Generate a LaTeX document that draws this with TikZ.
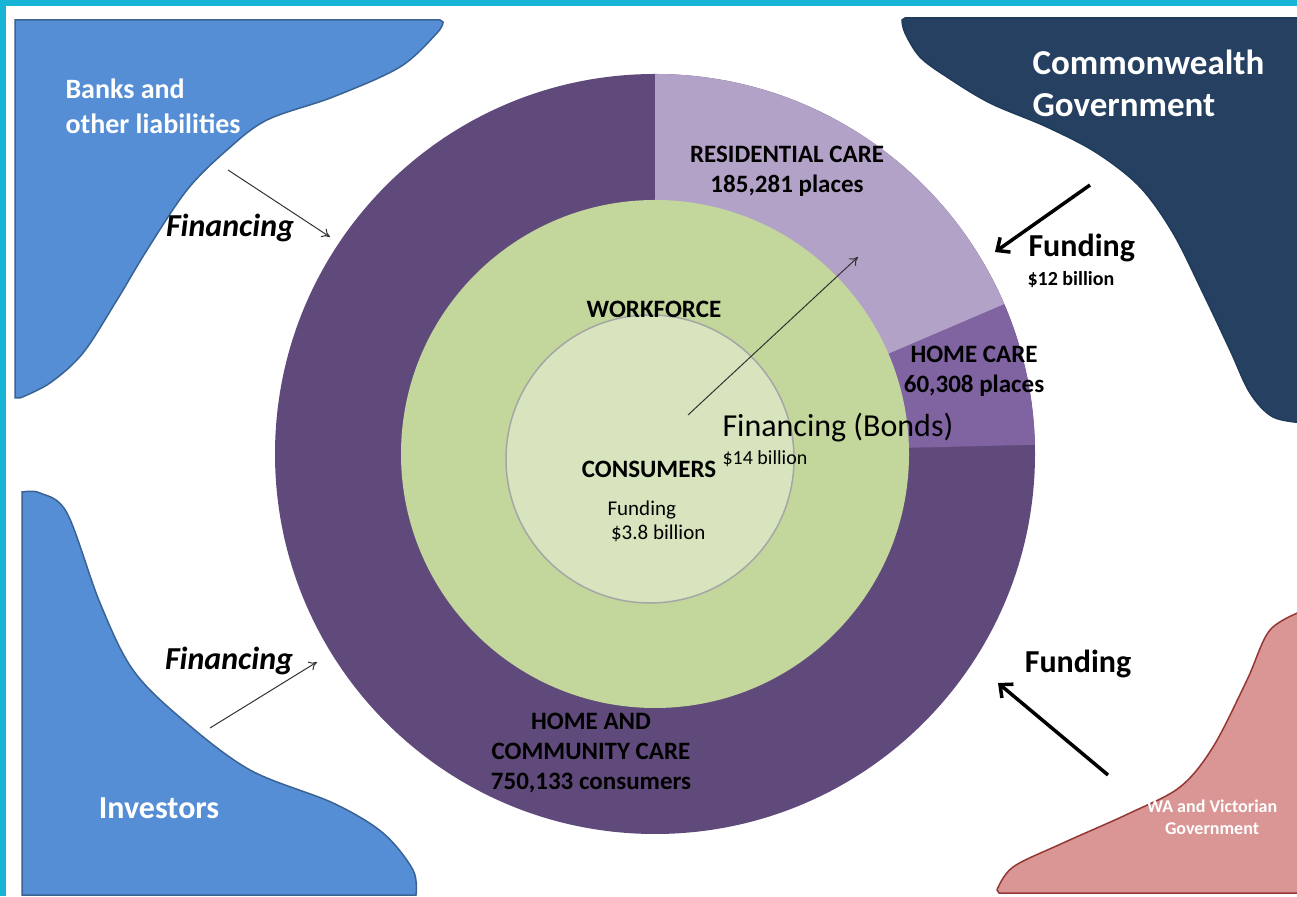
\documentclass[tikz,border=0pt]{standalone}
\usepackage{fontspec}
\setmainfont{Carlito}
\usepackage{tikz}
\usetikzlibrary{positioning, arrows.meta, shapes}

\definecolor{edgecyan}{HTML}{17B4D6}
\definecolor{bankblue}{HTML}{558ED5}
\definecolor{bankline}{HTML}{3A6394}
\definecolor{govnavy}{HTML}{254061}
\definecolor{govline}{HTML}{1F3A5A}
\definecolor{stepink}{HTML}{D99694}
\definecolor{stateline}{HTML}{953735}
\definecolor{hacc}{HTML}{604A7B}
\definecolor{resi}{HTML}{B3A2C7}
\definecolor{homec}{HTML}{8064A2}
\definecolor{work}{HTML}{C3D69B}
\definecolor{cons}{HTML}{D7E4BD}

\begin{document}
\begin{tikzpicture}[x=1pt, y=1pt,
  ringtext/.style={font=\fontsize{25}{30}\selectfont\bfseries, align=center, text=black},
  whitetext/.style={text=white, font=\bfseries},
  flowtext/.style={font=\fontsize{32}{36}\selectfont\bfseries\itshape},
  fundtext/.style={font=\fontsize{32}{36}\selectfont\bfseries},
  finarrow/.style={-{To[length=8pt, width=10pt]}, line width=1pt, black!80},
  fundarrow/.style={-{Straight Barb[length=10pt, width=18pt]}, line width=3.5pt}
]

\useasboundingbox (0,0) rectangle (1297,896);

% Frame
\fill[edgecyan] (0,890) rectangle (1297,896);
\fill[edgecyan] (0,0) rectangle (6,896);

% Banks
\draw[fill=bankblue, draw=bankline, line width=1.5pt]
  (15,498) -- (15,876) -- (440,876)
  -- plot[smooth, tension=0.55] coordinates {(443,874) (437,863) (400,829) (333,799) (267,776) (227,746)
    (187,706) (147,646) (117,596) (83,543) (50,513) (20,498)} -- cycle;

% Investors
\draw[fill=bankblue, draw=bankline, line width=1.5pt]
  (22,1) -- (22,404)
  -- plot[smooth, tension=0.55] coordinates {(23,404) (40,403) (67,383) (100,293) (133,226) (183,176)
    (250,126) (333,93) (383,63) (413,26) (416,1)} -- cycle;

% Commonwealth
\draw[fill=govnavy, draw=govline, line width=1.5pt]
  (1305,878) -- (905,878)
  -- plot[smooth, tension=0.55] coordinates {(902,876) (905,863) (920,839) (947,819) (990,793) (1047,769)
    (1097,743) (1140,709) (1173,663) (1203,603) (1230,546) (1250,503) (1273,479) (1305,473)} -- cycle;

% WA and Victoria
\draw[fill=stepink, draw=stateline, line width=1.5pt]
  (1305,3) -- (999,3)
  -- plot[smooth, tension=0.55] coordinates {(997,6) (1013,29) (1063,53) (1130,83) (1180,109) (1213,149)
    (1247,216) (1270,266) (1305,286)} -- cycle;

% Ring
\coordinate (hub) at (655,442);
\fill[hacc] (hub) circle[radius=380pt];
\fill[resi] (hub) -- ++(90:380pt) arc[start angle=90, end angle=23.2, radius=380pt] -- cycle;
\fill[homec] (hub) -- ++(23.2:380pt) arc[start angle=23.2, end angle=1.4, radius=380pt] -- cycle;
\fill[work] (hub) circle[radius=254pt];
\filldraw[fill=cons, draw=black!35, line width=1.5pt] (650,437) circle[radius=144pt];

% Ring labels
\node[ringtext] (residential) at (787,725) {RESIDENTIAL CARE\\185,281 places};
\node[ringtext] (homecare) at (974,525) {HOME CARE\\60,308 places};
\node[ringtext] (workforce) at (654,587) {WORKFORCE};
\node[ringtext] (consumers) at (649,427) {CONSUMERS};
\node[anchor=west, align=left, font=\fontsize{21}{24}\selectfont] (consfund) at (604,375) {Funding\\\,\$3.8 billion};
\node[ringtext] (community) at (591,143) {HOME AND\\COMMUNITY CARE\\750,133 consumers};
\node[anchor=west, font=\fontsize{32}{34}\selectfont] (bonds) at (719,468) {Financing (Bonds)};
\node[anchor=west, font=\fontsize{20}{22}\selectfont] (bondsum) at (719,437) {\$14 billion};

% Sources
\node[whitetext, anchor=west, align=left, font=\fontsize{28}{35}\selectfont\bfseries] (banks) at (62,790) {Banks and\\other liabilities};
\node[whitetext, font=\fontsize{32}{36}\selectfont\bfseries] (investors) at (159,88) {Investors};
\node[whitetext, anchor=west, align=left, font=\fontsize{35}{42}\selectfont\bfseries] (cwgov) at (1029,813) {Commonwealth\\Government};
\node[whitetext, align=center, font=\fontsize{18}{22}\selectfont\bfseries] (stategov) at (1212,79) {WA and Victorian\\Government};

% Flow labels
\node[flowtext] (fintop) at (230,668) {Financing};
\node[flowtext] (finbot) at (229,235) {Financing};
\node[fundtext, anchor=west] (cwfund) at (1025,648) {Funding};
\node[anchor=west, font=\fontsize{20}{22}\selectfont\bfseries] (cwsum) at (1024,616) {\$12 billion};
\node[fundtext] (statefund) at (1078,232) {Funding};

% Arrows
\coordinate (banksout) at (228,726);
\coordinate (banksin) at (330,659);
\coordinate (invout) at (210,168);
\coordinate (invin) at (317,234);
\coordinate (cwout) at (1090,711);
\coordinate (cwin) at (995,644);
\coordinate (stateout) at (1108,121);
\coordinate (statein) at (998,213);
\coordinate (bondout) at (688,481);
\coordinate (bondin) at (858,639);

\draw[finarrow] (banksout) -- (banksin);
\draw[finarrow] (invout) -- (invin);
\draw[finarrow] (bondout) -- (bondin);
\draw[fundarrow] (cwout) -- (cwin);
\draw[fundarrow] (stateout) -- (statein);

\end{tikzpicture}
\end{document}
